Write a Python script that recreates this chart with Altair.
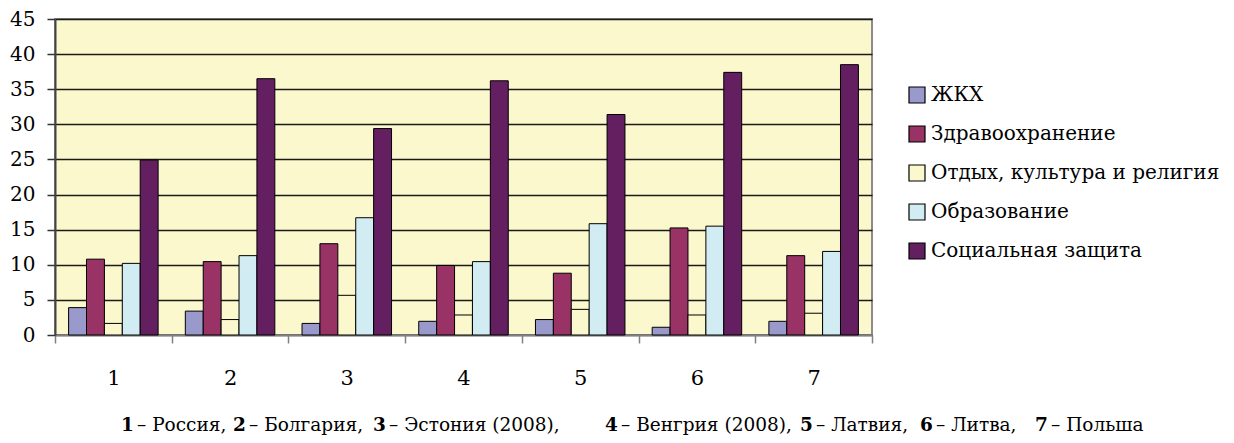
import altair as alt
import pandas as pd

categories = ["1", "2", "3", "4", "5", "6", "7"]
series = ["ЖКХ", "Здравоохранение", "Отдых, культура и религия", "Образование", "Социальная защита"]

zhkh = [3.9, 3.4, 1.65, 1.95, 2.2, 1.1, 1.95]
zdrav = [10.8, 10.45, 13.0, 9.9, 8.8, 15.25, 11.3]
otdyh = [1.65, 2.2, 5.65, 2.85, 3.65, 2.85, 3.1]
obraz = [10.2, 11.3, 16.7, 10.45, 15.85, 15.5, 11.9]
soc = [24.9, 36.5, 29.4, 36.2, 31.4, 37.4, 38.5]

y_ticks = [0, 5, 10, 15, 20, 25, 30, 35, 40, 45]

caption_nums = ["1", "2", "3", "4", "5", "6", "7"]
caption_rest = ["– Россия,", "– Болгария,", "– Эстония (2008),", "– Венгрия (2008),",
                "– Латвия,", "– Литва,", "– Польша"]

colors = ["#9999CC", "#993366", "#FBF8CD", "#D2ECF3", "#641F60"]

rows = []
for s, vals in zip(series, [zhkh, zdrav, otdyh, obraz, soc]):
    for c, v in zip(categories, vals):
        rows.append({"cat": c, "series": s, "value": v})
df = pd.DataFrame(rows)
one = pd.DataFrame({"k": [0]})

FONT = "DejaVu Serif"
W, H = 817, 316

bars = alt.Chart(df).mark_bar(stroke="black", strokeWidth=1).encode(
    x=alt.X("cat:N", sort=categories,
            scale=alt.Scale(paddingInner=0, paddingOuter=0),
            axis=alt.Axis(title=None, labelAngle=0, tickBand="extent", labelFont=FONT,
                          labelFontSize=21, labelPadding=24, tickSize=8, tickColor="#808080",
                          tickWidth=1.5, domainColor="#808080", domainWidth=1.5, grid=False,
                          labelColor="black")),
    xOffset=alt.XOffset("series:N", sort=series,
                        scale=alt.Scale(paddingInner=0, paddingOuter=0.76)),
    y=alt.Y("value:Q", scale=alt.Scale(domain=[0, 45], nice=False),
            axis=alt.Axis(title=None, values=y_ticks, grid=True, gridColor="#1a1a1a",
                          gridWidth=1.5, labelFont=FONT, labelFontSize=20, labelColor="black",
                          tickSize=8, tickColor="#333", tickWidth=1.5, domainColor="#444",
                          domainWidth=2, labelPadding=12)),
    color=alt.Color("series:N", sort=series,
                    scale=alt.Scale(domain=series, range=colors),
                    legend=alt.Legend(title=None, orient="none", legendX=852, legendY=66,
                                      symbolType="square", symbolSize=256,
                                      symbolStrokeColor="black", symbolStrokeWidth=1.2,
                                      labelFont=FONT, labelFontSize=20, labelColor="black",
                                      labelLimit=0, rowPadding=17, labelOffset=4, padding=0)),
)

layers = [bars]
num_x = [121, 233, 373, 605, 800, 920, 1035]
for n, r, px in zip(caption_nums, caption_rest, num_x):
    layers.append(alt.Chart(one).mark_text(font=FONT, fontSize=18.5, fontWeight="bold", align="left",
                                           baseline="alphabetic", color="black").encode(
        x=alt.value(px - 55), y=alt.value(412), text=alt.value(n)))
    layers.append(alt.Chart(one).mark_text(font=FONT, fontSize=18.5, align="left",
                                           baseline="alphabetic", color="black").encode(
        x=alt.value(px - 55 + 16), y=alt.value(412), text=alt.value(r)))

chart = alt.layer(*layers).properties(
    width=W, height=H,
    autosize=alt.AutoSizeParams(type="none"),
    padding={"left": 47, "top": 11, "right": 354, "bottom": 100},
    background="white",
).configure_view(fill="#FBF8CD", stroke="#8c8c8c", strokeWidth=2)

chart.save("out.html", embed_options={"renderer": "svg", "actions": False})
